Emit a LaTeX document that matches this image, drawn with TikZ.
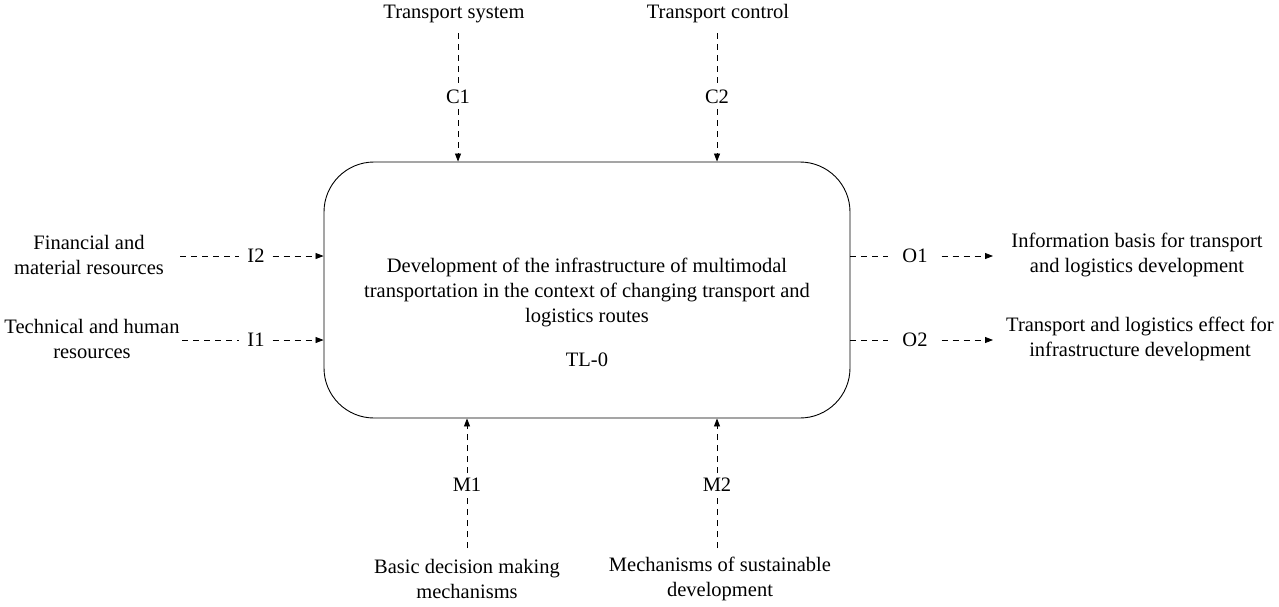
\documentclass[tikz,border=0pt]{standalone}
\usepackage{fontspec}
\setmainfont{Liberation Serif}
\usetikzlibrary{arrows.meta}
\begin{document}
\begin{tikzpicture}[x=1pt,y=-1pt,
  txt/.style={align=center,inner sep=0pt,font=\fontsize{20.5}{25}\selectfont},
  lbl/.style={inner xsep=8pt,inner ysep=5pt,font=\fontsize{20.5}{25}\selectfont},
  dline/.style={line width=0.8pt,dash pattern=on 6pt off 5pt},
  darr/.style={dline,-{Triangle[length=8pt,width=6pt]}},
  box/.style={draw,line width=0.9pt,rounded corners=50pt,minimum width=526pt,minimum height=256pt,inner sep=0pt}]
\useasboundingbox (0,0) rectangle (1279,606);
% main box
\node[box] (main) at (587,290) {};
\node[txt] (title) at (587,292) {Development of the infrastructure of multimodal\\transportation in the context of changing transport and\\logistics routes};
\node[txt] (tl) at (587,360) {TL-0};
% controls
\node[txt] (ts) at (454,14) {Transport system};
\node[txt] (tc) at (718,14) {Transport control};
\node[lbl] (c1) at (458,97) {C1};
\node[lbl] (c2) at (717,97) {C2};
\coordinate (c1s) at (458,33);
\coordinate (c2s) at (717,33);
\draw[dline] (c1s) -- (c1.north);
\draw[darr] (c1) -- (c1 |- main.north);
\draw[dline] (c2s) -- (c2.north);
\draw[darr] (c2) -- (c2 |- main.north);
% mechanisms
\node[txt] (bd) at (467,579) {Basic decision making\\mechanisms};
\node[txt] (ms) at (720,579) {Mechanisms of sustainable\\development};
\node[lbl] (m1) at (467,485) {M1};
\node[lbl] (m2) at (717,485) {M2};
\coordinate (m1s) at (467,548);
\coordinate (m2s) at (717,548);
\draw[dline] (m1s) -- (m1.south);
\draw[darr] (m1) -- (m1 |- main.south);
\draw[dline] (m2s) -- (m2.south);
\draw[darr] (m2) -- (m2 |- main.south);
% inputs
\node[txt] (fin) at (89,255) {Financial and\\material resources};
\node[txt] (tech) at (92,339) {Technical and human\\resources};
\node[lbl] (i2) at (256,256) {I2};
\node[lbl] (i1) at (256,340) {I1};
\coordinate (i2s) at (180,256);
\coordinate (i1s) at (182,340);
\draw[dline] (i2s) -- (i2.west);
\draw[darr] (i2) -- (i2 -| main.west);
\draw[dline] (i1s) -- (i1.west);
\draw[darr] (i1) -- (i1 -| main.west);
% outputs
\node[txt] (ib) at (1137,255) {Information basis for transport\\and logistics development};
\node[txt] (te) at (1140,339) {Transport and logistics effect for\\infrastructure development};
\node[lbl,inner xsep=14pt] (o1) at (915,256) {O1};
\node[lbl,inner xsep=14pt] (o2) at (915,340) {O2};
\coordinate (o1e) at (993,256);
\coordinate (o2e) at (993,340);
\draw[dline] (o1 -| main.east) -- (o1.west);
\draw[darr] (o1) -- (o1e);
\draw[dline] (o2 -| main.east) -- (o2.west);
\draw[darr] (o2) -- (o2e);
\end{tikzpicture}
\end{document}
